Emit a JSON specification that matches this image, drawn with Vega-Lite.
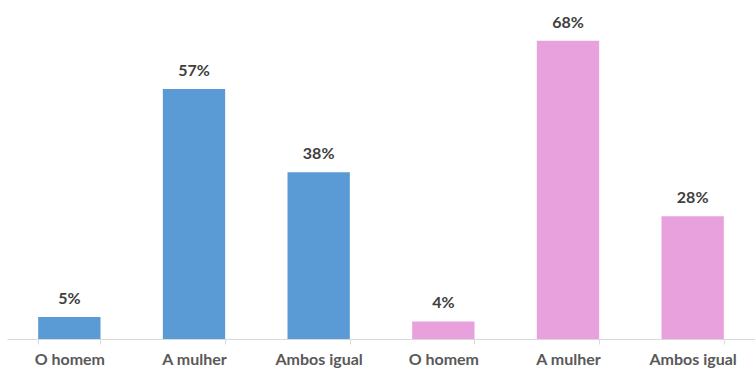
{
  "$schema": "https://vega.github.io/schema/vega-lite/v6.json",
  "width": 748,
  "height": 339,
  "autosize": {"type": "none"},
  "padding": {"left": 7, "top": 0, "right": 0, "bottom": 31},
  "background": "white",
  "config": {"view": {"stroke": null}},
  "data": {
    "values": [
      {"id": "O homem|1", "group": "A", "value": 0.05},
      {"id": "A mulher|1", "group": "A", "value": 0.57},
      {"id": "Ambos igual|1", "group": "A", "value": 0.38},
      {"id": "O homem|2", "group": "B", "value": 0.04},
      {"id": "A mulher|2", "group": "B", "value": 0.68},
      {"id": "Ambos igual|2", "group": "B", "value": 0.28}
    ]
  },
  "encoding": {
    "x": {
      "field": "id",
      "type": "nominal",
      "sort": null,
      "scale": {"paddingInner": 0.5, "paddingOuter": 0.25},
      "axis": {
        "title": null,
        "labelAngle": 0,
        "labelExpr": "split(datum.label, '|')[0]",
        "labelFont": "Lato",
        "labelFontWeight": "bold",
        "labelFontSize": 16,
        "labelColor": "#595959",
        "labelPadding": 7,
        "domainColor": "#D9D9D9",
        "tickColor": "#D9D9D9",
        "tickSize": 5,
        "tickBand": "extent",
        "grid": false
      }
    },
    "y": {
      "field": "value",
      "type": "quantitative",
      "scale": {"domain": [0, 0.773], "nice": false},
      "axis": null
    }
  },
  "layer": [
    {
      "mark": {"type": "bar"},
      "encoding": {
        "color": {
          "field": "group",
          "type": "nominal",
          "scale": {"domain": ["A", "B"], "range": ["#5B9BD5", "#E9A1DE"]},
          "legend": null
        }
      }
    },
    {
      "mark": {"type": "text", "baseline": "bottom", "dy": -10, "font": "Lato", "fontWeight": "bold", "fontSize": 16, "color": "#404040"},
      "encoding": {
        "text": {"field": "value", "type": "quantitative", "format": ".0%"}
      }
    }
  ]
}
